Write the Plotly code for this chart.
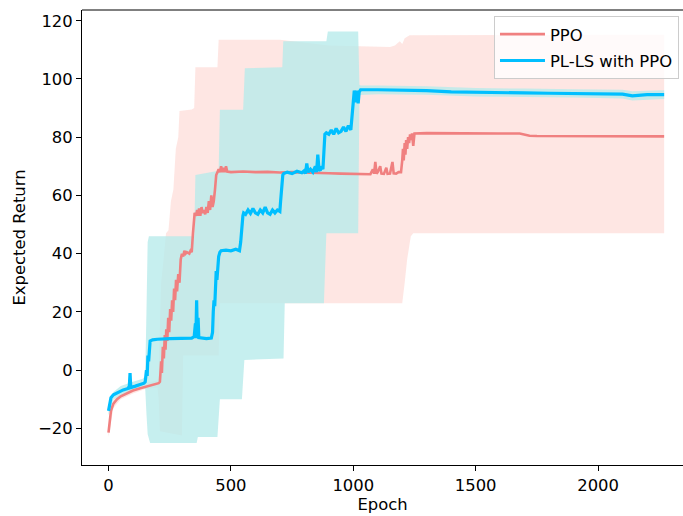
import plotly.graph_objects as go

# ---------------- data ----------------
ppo_epoch = [0, 5, 10, 20, 35, 50, 75, 100, 130, 160, 190, 205, 210, 212, 215, 218, 222, 226, 230, 233,
             236, 240, 244, 248, 252, 256, 260, 264, 268, 272, 276, 280, 285, 290, 295, 300, 305, 310,
             315, 320, 330, 335, 340, 345, 348, 352, 358, 362, 366, 370, 375, 380, 385, 390, 395, 400,
             405, 410, 415, 420, 425, 430, 435, 440, 445, 450, 455, 460, 465, 470, 475, 480, 485, 500,
             550, 600, 650, 700, 750, 800, 850, 900, 950, 1000, 1050, 1070, 1080, 1085, 1090, 1095,
             1100, 1110, 1115, 1125, 1135, 1140, 1150, 1160, 1165, 1175, 1185, 1195, 1200, 1203, 1206,
             1210, 1213, 1216, 1220, 1224, 1228, 1232, 1236, 1240, 1245, 1250, 1300, 1400, 1500, 1600,
             1680, 1700, 1720, 1750, 1800, 1900, 2000, 2100, 2200, 2270]
ppo_return = [-21.5, -17, -14, -11.5, -10, -9, -8, -7, -6.2, -5.5, -5, -4.5, -4, -2, 3, -1, 8, 4, 12, 7,
              14, 10, 18, 13, 21, 17, 24, 20, 28, 24, 31, 27, 33, 30, 38, 40, 39, 41,
              40, 40.5, 40, 41, 40.5, 47, 52, 54, 53, 55, 53, 55.5, 53, 56, 54, 55, 53.5, 56,
              54, 58, 55, 60, 56, 58, 62, 67, 68, 69, 68, 70, 68, 69.5, 68, 70, 68.2, 68,
              68.2, 68, 68.1, 67.9, 68, 67.8, 67.7, 67.6, 67.5, 67.4, 67.5, 67.3, 69, 67.5, 71.5, 67.5,
              68, 70, 67.5, 67.4, 69.5, 67.4, 67.5, 71.5, 67.6, 67.5, 68, 68, 72, 76, 72,
              78, 74, 79, 76, 80, 78, 81, 79, 81.3, 77, 81.3, 81.4, 81.3, 81.4, 81.3,
              81.3, 80.8, 80.5, 80.4, 80.4, 80.5, 80.4, 80.4, 80.4, 80.3]

ppo_upper_epoch = [0, 20, 50, 100, 150, 200, 205, 210, 215, 225, 235, 245, 255, 265, 275, 285, 290,
                   340, 350, 355, 445, 450, 700, 900, 1150, 1170, 1190, 1200, 1210, 1230, 2270]
ppo_upper = [-20, -10, -7.8, -6, -4.5, -3.5, -2, 15, 30, 38, 47, 48, 58, 62, 76, 80, 89,
             89.5, 90, 104, 104, 113.5, 113.5, 111.5, 111, 111.5, 113, 112, 114, 115, 115.2]
ppo_lower_epoch = [0, 20, 50, 100, 150, 200, 205, 210, 300, 305, 450, 455, 1200, 1210, 1220, 1235,
                   1245, 2270]
ppo_lower = [-23, -13, -10, -8, -6.5, -6, -10, -21, -22.5, 5, 5, 23, 23, 30, 38, 46, 47, 47]

pl_epoch = [0, 5, 10, 20, 40, 60, 80, 85, 88, 91, 110, 130, 145, 150, 155, 158, 161, 164, 167, 170,
            180, 200, 250, 300, 340, 350, 355, 357, 360, 363, 366, 369, 380, 400, 420, 425, 428, 431,
            434, 437, 440, 443, 446, 450, 455, 460, 480, 500, 520, 535, 540, 543, 546, 549, 552, 560,
            570, 580, 590, 600, 610, 620, 630, 640, 650, 660, 670, 680, 690, 700, 703, 706, 709, 712,
            716, 730, 750, 770, 790, 800, 805, 810, 815, 825, 835, 845, 850, 855, 860, 865, 870, 876,
            880, 884, 890, 900, 910, 920, 930, 940, 950, 960, 970, 980, 990, 995, 1000, 1004, 1008,
            1012, 1016, 1020, 1024, 1030, 1100, 1200, 1300, 1400, 1500, 1600, 1700, 1800, 1900, 2000,
            2100, 2140, 2160, 2200, 2270]
pl_return = [-14, -11, -9.5, -8.5, -7.5, -6.8, -6.3, -5.5, -1, -6, -5.5, -5, -4.5, -4, 0, -2, 5, 3, 9, 10,
             10.4, 10.6, 10.8, 10.9, 11, 11.5, 16, 11, 24, 12, 18, 11.2, 11, 10.8, 11, 13, 20, 24,
             22, 30, 34, 31, 37, 39, 40.5, 41, 41.2, 41, 41.5, 41, 44, 48, 51, 53, 54, 53.5,
             55, 53.8, 55.5, 54, 53.5, 55, 54, 56, 54, 53.5, 55, 54, 55, 54.5, 58, 61, 64, 67,
             67.5, 68, 67.5, 68.3, 67.8, 68.5, 67.5, 71, 68, 69, 68, 70, 68, 74, 69, 68.5, 70, 69,
             75, 81, 81.5, 81, 82.5, 81, 83, 81.5, 82, 83.5, 82, 84, 82.5, 87, 91, 96, 95,
             92, 96, 91.6, 95.5, 96.3, 96.3, 96.2, 96, 95.6, 95.4, 95.3, 95.2, 95.1, 95, 94.9,
             94.8, 94.2, 94.3, 94.6, 94.6]

pl_upper_epoch = [0, 20, 50, 100, 140, 150, 155, 160, 165, 350, 355, 450, 455, 550, 557, 710, 714, 890,
                  896, 1020, 1025, 1030, 1100, 1300, 1500, 1700, 1900, 2100, 2140, 2270]
pl_upper = [-12.5, -7.5, -5.5, -4, -3, -2, 20, 44, 46, 46, 67, 68.5, 89.4, 89.4, 103.7, 104, 113, 113,
            116.3, 116.3, 98, 97.8, 97.8, 97.5, 96.9, 96.7, 96.5, 96.3, 95.8, 96.1]
pl_lower_epoch = [0, 20, 50, 100, 140, 150, 155, 160, 170, 360, 365, 445, 455, 545, 555, 715, 720, 880,
                  890, 1020, 1025, 1100, 1300, 1500, 1700, 1900, 2100, 2140, 2270]
pl_lower = [-15.5, -10, -9, -7, -6, -6.5, -15, -22, -25, -25, -23, -23, -10, -10, 3.5, 4, 23, 23,
            47, 47, 94.5, 94.8, 94.6, 94, 93.8, 93.6, 93.3, 92.6, 93.1]

x_ticks = [0, 500, 1000, 1500, 2000]
y_ticks = [-20, 0, 20, 40, 60, 80, 100, 120]

FONT = "DejaVu Sans"
FS = 16.4

fig = go.Figure()

# shaded bands (polygons built from the upper and lower bounds)
fig.add_trace(go.Scatter(
    x=ppo_upper_epoch + ppo_lower_epoch[::-1],
    y=ppo_upper + ppo_lower[::-1],
    fill="toself", fillcolor="rgba(250,128,114,0.2)", mode="none",
    showlegend=False, hoverinfo="skip"))
fig.add_trace(go.Scatter(
    x=pl_upper_epoch + pl_lower_epoch[::-1],
    y=pl_upper + pl_lower[::-1],
    fill="toself", fillcolor="rgba(182,235,235,0.78)", mode="none",
    showlegend=False, hoverinfo="skip"))

# mean lines
fig.add_trace(go.Scatter(x=ppo_epoch, y=ppo_return, mode="lines", name="PPO",
                         line=dict(color="#F08080", width=2.6), legendgroup="ppo"))
fig.add_trace(go.Scatter(x=pl_epoch, y=pl_return, mode="lines", name="PL-LS with PPO",
                         line=dict(color="#00BFFF", width=3.2), legendgroup="plls"))

axis_common = dict(showgrid=False, zeroline=False, showline=True, linecolor="black", linewidth=1,
                   ticks="outside", ticklen=5, tickwidth=1, tickcolor="black", automargin=False,
                   tickfont=dict(family=FONT, size=FS, color="black"))

fig.update_xaxes(range=[-108.3, 2347], tickvals=x_ticks,
                 title=dict(text="Epoch", font=dict(family=FONT, size=FS, color="black"), standoff=4),
                 **axis_common)
fig.update_yaxes(range=[-32.6, 123.7], tickvals=y_ticks,
                 title=dict(text="Expected Return", font=dict(family=FONT, size=FS, color="black"), standoff=8),
                 **axis_common)

fig.add_shape(type="line", xref="paper", yref="paper", x0=0, x1=1, y0=1, y1=1,
              line=dict(color="black", width=1))

fig.update_layout(
    width=683, height=516,
    margin=dict(l=82, r=0, t=10, b=51),
    plot_bgcolor="white", paper_bgcolor="white",
    font=dict(family=FONT, size=FS, color="black"),
    hovermode=False,
    legend=dict(x=0.6855, y=0.9868, xanchor="left", yanchor="top",
                bgcolor="rgba(255,255,255,0.8)", bordercolor="#cccccc", borderwidth=1,
                itemwidth=45, tracegroupgap=2, font=dict(family=FONT, size=FS, color="black")),
)

fig.write_html("out.html", config={"displayModeBar": False},
               post_script="document.body.style.margin='0';document.body.style.overflow='hidden';")
